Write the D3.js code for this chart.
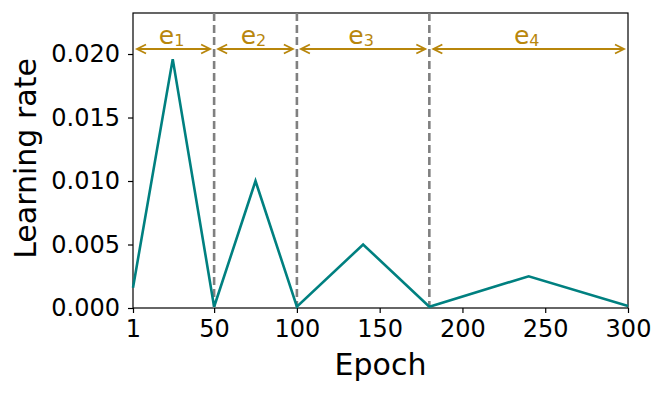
<!DOCTYPE html>
<html>
<head>
<meta charset="utf-8">
<script src="https://cdn.jsdelivr.net/npm/d3@7"></script>
<style>
  body { margin: 0; background: #fff; }
  text { font-family: "DejaVu Sans", sans-serif; }
</style>
</head>
<body>
<div id="chart"></div>
<script>
var svgWidth = 665;
var svgHeight = 394;

var margin = { top: 13, right: 37, bottom: 86, left: 133 };
var chartWidth = svgWidth - margin.left - margin.right;
var chartHeight = svgHeight - margin.top - margin.bottom;

// learning rate curve (epoch, lr)
var epochs = [1, 25, 50, 75, 100, 140, 180, 240, 300];
var rates = [0.0016, 0.0196, 0.0001, 0.0100, 0.0001, 0.0050, 0.0001, 0.0025, 0.00015];

// restart boundaries and cycle labels
var restarts = [50, 100, 180];
var cycleStart = [1, 50, 100, 180];
var cycleEnd = [50, 100, 180, 300];
var cycleNames = ["1", "2", "3", "4"];

var xTicks = [1, 50, 100, 150, 200, 250, 300];
var yTicks = [0, 0.005, 0.010, 0.015, 0.020];

var teal = "#008080";
var gold = "#b8860b";

var svg = d3.select("#chart")
  .append("svg")
  .attr("width", svgWidth)
  .attr("height", svgHeight);

var g = svg.append("g")
  .attr("transform", `translate(${margin.left}, ${margin.top})`);

var x = d3.scaleLinear().domain([1, 300]).range([0, chartWidth]);
var y = d3.scaleLinear().domain([0, 0.02323]).range([chartHeight, 0]);

// axes
var xAxis = g.append("g")
  .attr("transform", `translate(0, ${chartHeight})`)
  .call(d3.axisBottom(x).tickValues(xTicks).tickFormat(d3.format("d")).tickSize(5).tickPadding(5));

var yAxis = g.append("g")
  .call(d3.axisLeft(y).tickValues(yTicks).tickFormat(d3.format(".3f")).tickSize(5).tickPadding(8));

[xAxis, yAxis].forEach(function(a) {
  a.selectAll("text").style("font-size", "24px").attr("fill", "#000");
  a.selectAll("line").attr("stroke", "#000").attr("stroke-width", 1.2);
  a.select(".domain").remove();
});
xAxis.selectAll("text").attr("dy", "0.8em");

// frame
g.append("rect")
  .attr("width", chartWidth)
  .attr("height", chartHeight)
  .attr("fill", "none")
  .attr("stroke", "#000")
  .attr("stroke-width", 1.2);

// restart lines
g.selectAll(".restart")
  .data(restarts)
  .enter()
  .append("line")
  .attr("x1", d => x(d))
  .attr("x2", d => x(d))
  .attr("y1", 0)
  .attr("y2", chartHeight)
  .attr("stroke", "#808080")
  .attr("stroke-width", 2.6)
  .attr("stroke-dasharray", "8,4");

// lr curve
var line = d3.line()
  .x(d => x(d[0]))
  .y(d => y(d[1]));

g.append("path")
  .datum(epochs.map((e, i) => [e, rates[i]]))
  .attr("d", line)
  .attr("fill", "none")
  .attr("stroke", teal)
  .attr("stroke-width", 2.6)
  .attr("stroke-linejoin", "miter");

// cycle arrows
var arrowY = 36;
var cycles = g.selectAll(".cycle")
  .data(cycleNames)
  .enter()
  .append("g");

cycles.each(function(d, i) {
  var sel = d3.select(this);
  var x0 = x(cycleStart[i]) + 4;
  var x1 = x(cycleEnd[i]) - 4;
  sel.append("line")
    .attr("x1", x0).attr("x2", x1)
    .attr("y1", arrowY).attr("y2", arrowY)
    .attr("stroke", gold).attr("stroke-width", 1.8);
  sel.append("path")
    .attr("d", `M${x0 + 9},${arrowY - 4.5} L${x0},${arrowY} L${x0 + 9},${arrowY + 4.5}`)
    .attr("fill", "none").attr("stroke", gold).attr("stroke-width", 1.8);
  sel.append("path")
    .attr("d", `M${x1 - 9},${arrowY - 4.5} L${x1},${arrowY} L${x1 - 9},${arrowY + 4.5}`)
    .attr("fill", "none").attr("stroke", gold).attr("stroke-width", 1.8);
  var t = sel.append("text")
    .attr("x", (x0 + x1) / 2 - 2)
    .attr("y", arrowY - 5)
    .attr("text-anchor", "middle")
    .attr("fill", gold)
    .style("font-size", "25px");
  t.append("tspan").text("e");
  t.append("tspan").attr("dy", 2).style("font-size", "16px").text(d);
});

// axis labels
svg.append("text")
  .attr("x", margin.left + chartWidth / 2)
  .attr("y", 375)
  .attr("text-anchor", "middle")
  .style("font-size", "30px")
  .text("Epoch");

svg.append("text")
  .attr("transform", `translate(36, ${margin.top + chartHeight / 2 - 2}) rotate(-90)`)
  .attr("text-anchor", "middle")
  .style("font-size", "30px")
  .text("Learning rate");
</script>
</body>
</html>
